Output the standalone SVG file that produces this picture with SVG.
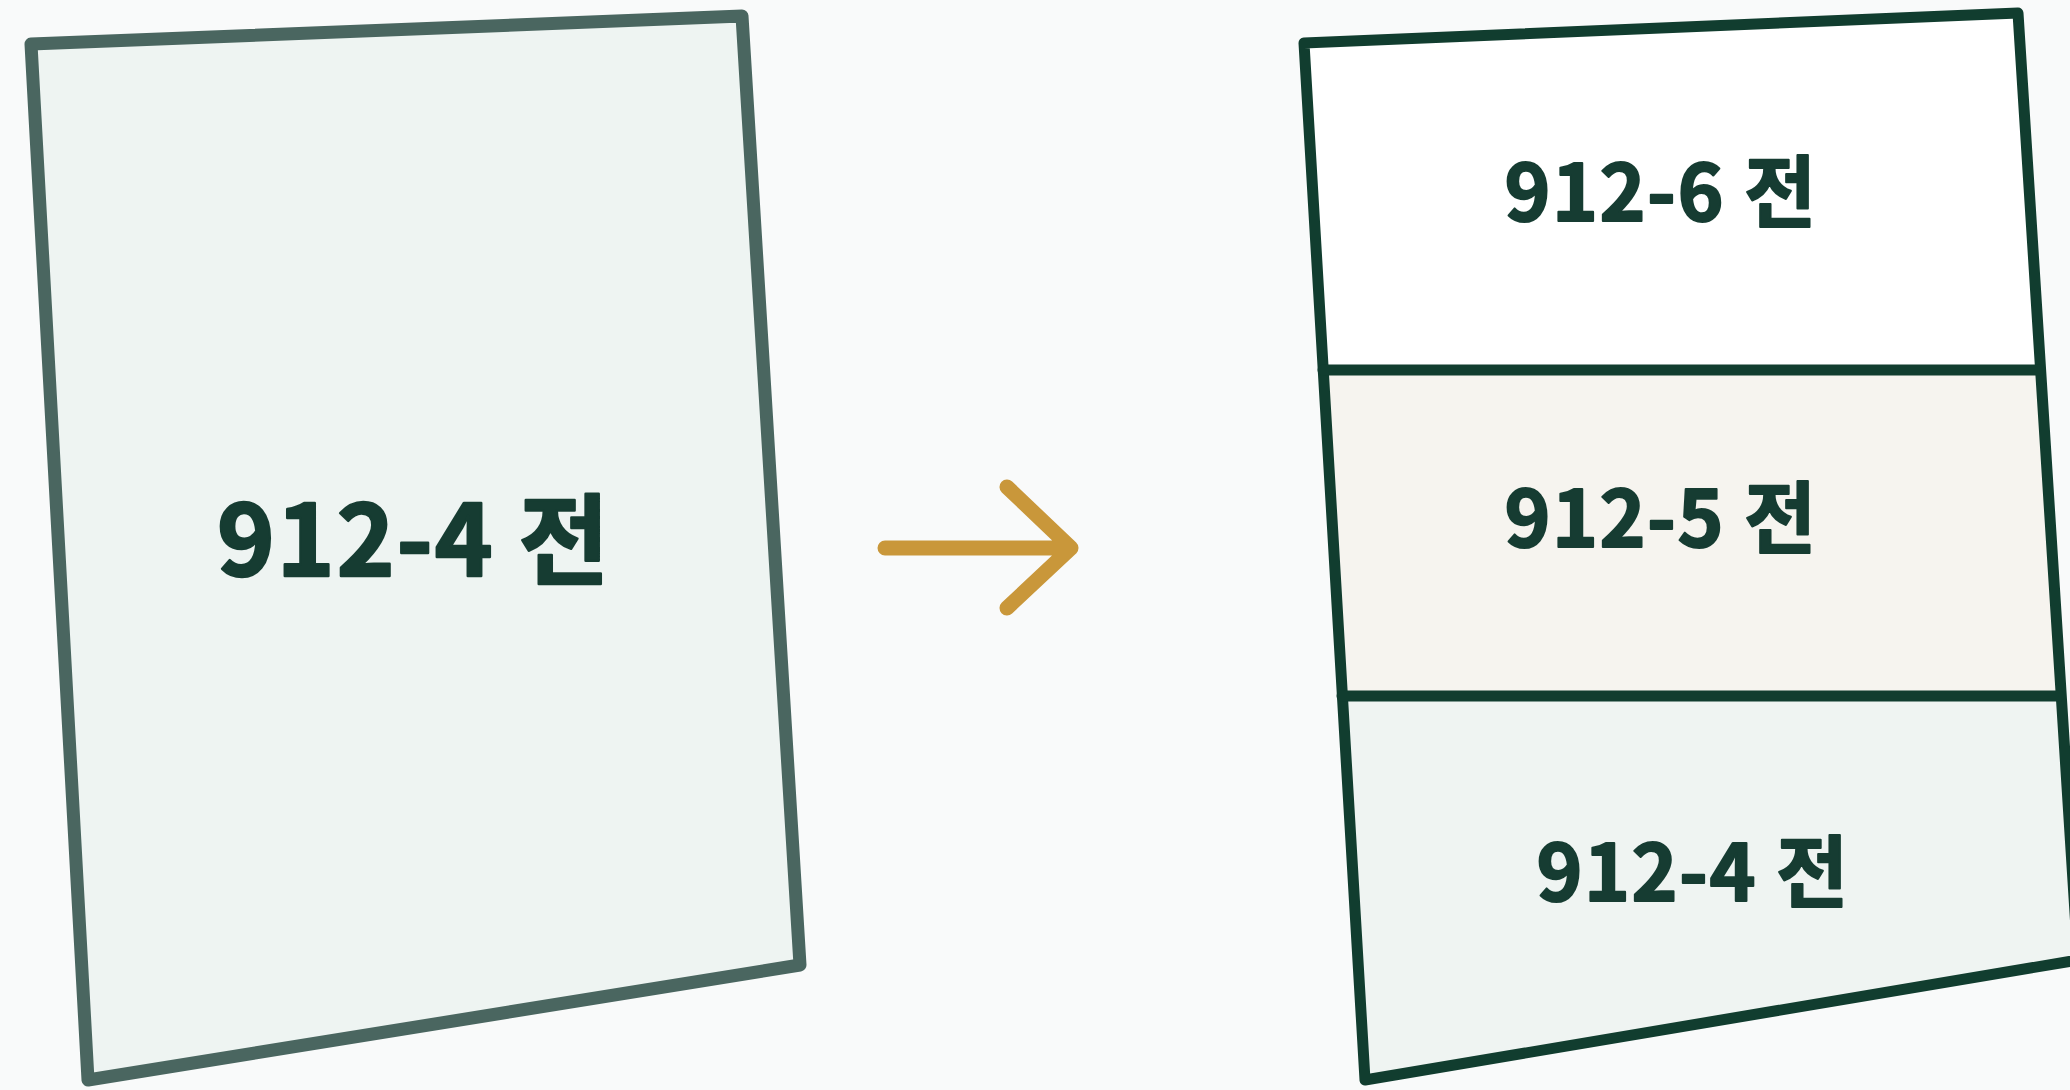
<svg xmlns="http://www.w3.org/2000/svg" width="2070" height="1090" viewBox="0 0 2070 1090">
<style>
.lbl{font-family:"Noto Sans CJK KR","Noto Sans CJK SC",sans-serif;font-weight:700;fill:#163c32;stroke:#163c32;stroke-linejoin:round;text-anchor:middle}
.big{font-size:98px;stroke-width:2.5;letter-spacing:2px}
.mid{font-size:78px;stroke-width:2;letter-spacing:1.5px}
.edge{fill:none;stroke:#113d2f;stroke-width:11;stroke-linejoin:round;stroke-linecap:round}
</style>
<rect x="0" y="0" width="2070" height="1090" fill="#f9fafa"/>
<g id="parcel-before">
<polygon points="31,44 742,16 800,965 88,1080" fill="#eef4f2" stroke="#4a6660" stroke-width="13" stroke-linejoin="round"/>
<text class="lbl big" x="414" y="576">912-4 전</text>
</g>
<g id="connectors">
<path d="M885,548 H1071 M1007,487 L1071,548 L1007,608" fill="none" stroke="#c9973a" stroke-width="15" stroke-linecap="round" stroke-linejoin="round"/>
</g>
<g id="parcel-912-6">
<polygon points="1304,43 2018,13 2040,370 1323,370" fill="#ffffff"/>
<text class="lbl mid" x="1661" y="221">912-6 전</text>
</g>
<g id="parcel-912-5">
<polygon points="1323,370 2040,370 2059,696 1342,696" fill="#f6f4ef"/>
<text class="lbl mid" x="1661" y="547">912-5 전</text>
</g>
<g id="parcel-912-4">
<polygon points="1342,696 2059,696 2078,960 1365,1080" fill="#eff4f2"/>
<text class="lbl mid" x="1693" y="901">912-4 전</text>
</g>
<g id="outline-after">
<polygon class="edge" points="1304,43 2018,13 2078,960 1365,1080"/>
<line class="edge" x1="1323" y1="370" x2="2040" y2="370"/>
<line class="edge" x1="1342" y1="696" x2="2059" y2="696"/>
</g>
</svg>
